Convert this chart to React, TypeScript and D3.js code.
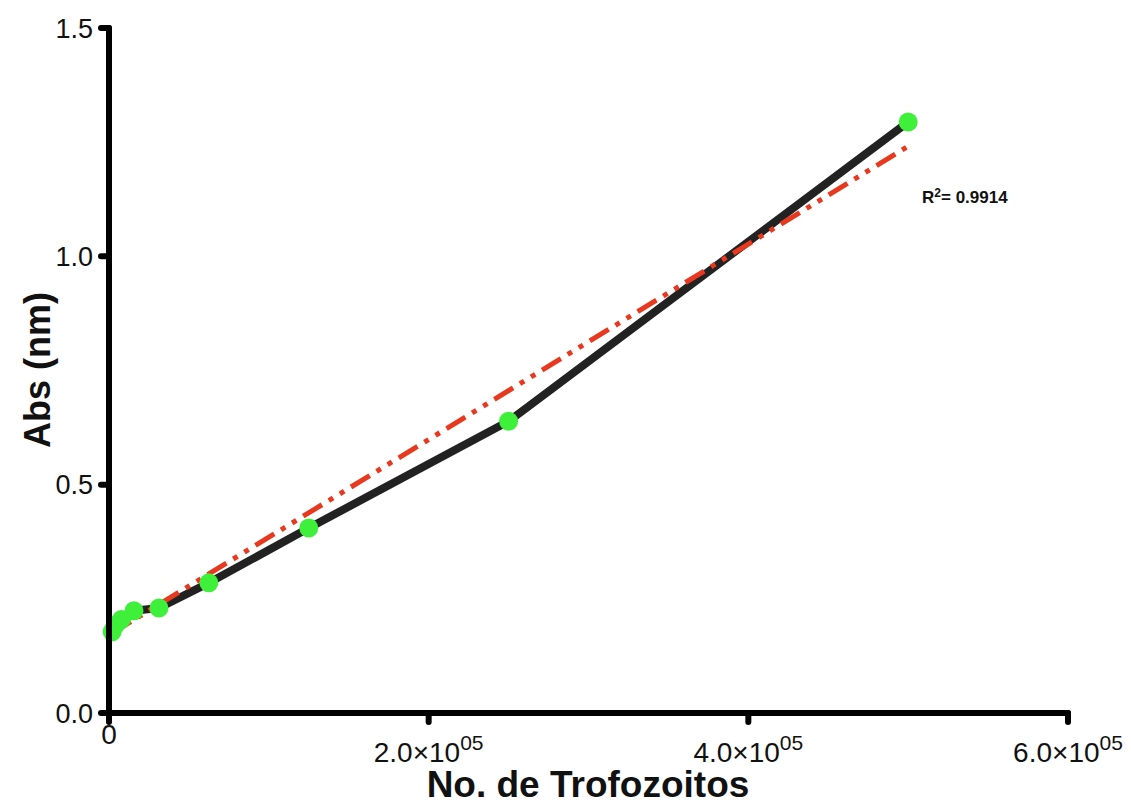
import * as d3 from "d3";

// Trofozoitos count vs absorbance
const trofozoitos = [1953, 3906, 7812, 15625, 31250, 62500, 125000, 250000, 500000];
const absorbance = [0.178, 0.192, 0.205, 0.224, 0.23, 0.285, 0.405, 0.639, 1.294];

// linear fit, read at its two ends
const fitX = [1953, 500000];
const fitY = [0.175, 1.241];

const xTicks = [0, 200000, 400000, 600000];
const xTickMain = ["0", "2.0×10", "4.0×10", "6.0×10"];
const xTickSup = ["", "05", "05", "05"];
const yTicks = [0, 0.5, 1.0, 1.5];
const yTickLabels = ["0.0", "0.5", "1.0", "1.5"];

const r2Label = "0.9914";

const App = () => {
  const width = 1131;
  const height = 804;
  const font = "'Liberation Sans', Arial, Helvetica, sans-serif";

  const x = d3.scaleLinear().domain([0, 600000]).range([109, 1068]);
  const y = d3.scaleLinear().domain([0, 1.5]).range([713, 28]);

  const pts = trofozoitos.map((t, i) => [t, absorbance[i]] as [number, number]);
  const line = d3.line<[number, number]>().x(d => x(d[0])).y(d => y(d[1]));
  const fit = fitX.map((t, i) => [t, fitY[i]] as [number, number]);

  return (
    <svg width={width} height={height} style={{ position: "absolute", left: 0, top: 0 }} fontFamily={font}>
      <rect width={width} height={height} fill="#fff" />

      {/* data line */}
      <path d={line(pts) ?? ""} fill="none" stroke="#222" strokeWidth={8} strokeLinejoin="round" />

      {/* fit line */}
      <path d={line(fit) ?? ""} fill="none" stroke="#e8381e" strokeWidth={5}
        strokeDasharray="22 8 5 8 5 8" />

      {pts.map((d, i) => (
        <circle key={i} cx={x(d[0])} cy={y(d[1])} r={9.5} fill="#3ef03a" />
      ))}

      {/* axes */}
      <g stroke="#000" strokeWidth={6} strokeLinecap="round" fill="none">
        <line x1={x(0)} x2={x(0)} y1={y(1.5)} y2={y(0) + 6} />
        <line x1={x(0) - 6} x2={x(600000)} y1={y(0)} y2={y(0)} />
        {yTicks.map((t, i) => (
          <line key={"yt" + i} x1={x(0) - 8} x2={x(0)} y1={y(t)} y2={y(t)} />
        ))}
        {xTicks.map((t, i) => (
          <line key={"xt" + i} x1={x(t)} x2={x(t)} y1={y(0)} y2={y(0) + 9} />
        ))}
      </g>

      {yTicks.map((t, i) => (
        <text key={"yl" + i} x={x(0) - 16} y={y(t)} dy="0.36em" textAnchor="end"
          fontSize={27} fill="#111">{yTickLabels[i]}</text>
      ))}
      {xTicks.map((t, i) => (
        <text key={"xl" + i} x={x(t)} y={i === 0 ? 744 : 762} textAnchor="middle" fontSize={28} fill="#111">
          {xTickMain[i]}
          {xTickSup[i] && <tspan fontSize={21} dy={-12}>{xTickSup[i]}</tspan>}
        </text>
      ))}

      <text x={588} y={797} textAnchor="middle" fontSize={37} fontWeight="bold" fill="#111">
        No. de Trofozoitos
      </text>
      <text transform="translate(50,370) rotate(-90)" textAnchor="middle" fontSize={36}
        fontWeight="bold" fill="#111">Abs (nm)</text>

      <text x={922} y={203} fontSize={17} fontWeight="bold" fill="#111">
        R<tspan fontSize={12} dy={-6}>2</tspan><tspan dy={6}>= {r2Label}</tspan>
      </text>
    </svg>
  );
};

export default App;
